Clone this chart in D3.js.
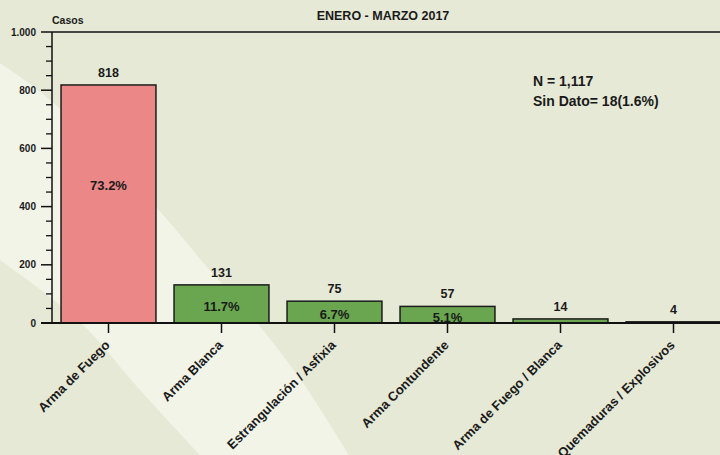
<!DOCTYPE html>
<html>
<head>
<meta charset="utf-8">
<script src="https://cdn.jsdelivr.net/npm/d3@7"></script>
<style>
  body { margin: 0; padding: 0; background: #e6e9d6; }
  svg { display: block; font-family: "Liberation Sans", Arial, sans-serif; }
</style>
</head>
<body>
<div id="chart"></div>
<script>
const categories = ["Arma de Fuego", "Arma Blanca", "Estrangulación / Asfixia", "Arma Contundente", "Arma de Fuego / Blanca", "Quemaduras / Explosivos"];
const casos = [818, 131, 75, 57, 14, 4];
const porcentajes = ["73.2%", "11.7%", "6.7%", "5.1%", "", ""];
const yTicks = [0, 200, 400, 600, 800, 1000];
const yTickLabels = ["0", "200", "400", "600", "800", "1.000"];
const notas = ["N = 1,117", "Sin Dato= 18(1.6%)"];

const width = 720,
    height = 455;
const margin = { left: 52, top: 32, bottom: 323 };

const svg = d3.select("#chart")
    .append("svg")
    .attr("width", width)
    .attr("height", height);

// fondo con la franja clara diagonal
svg.append("rect").attr("width", width).attr("height", height).attr("fill", "#e6e9d6");
const upperEdge = [[0, 63], [50, 100], [156, 207], [207, 267], [257, 323], [303, 383], [349, 455]];
const lowerEdge = [[200, 455], [140, 390], [80, 322], [0, 260]];
const edgeLine = d3.line().curve(d3.curveCatmullRom);
svg.append("path")
    .attr("d", edgeLine(upperEdge) + "L" + edgeLine(lowerEdge).slice(1) + "Z")
    .attr("fill", "#f2f4e8");

const x = d3.scaleBand()
    .domain(categories)
    .range([margin.left, 730])
    .paddingInner(0.16)
    .paddingOuter(0.08);

const y = d3.scaleLinear()
    .domain([0, 1000])
    .range([margin.bottom, margin.top]);

// barras
svg.selectAll("rect.bar")
    .data(casos)
    .join("rect")
    .attr("class", "bar")
    .attr("x", (d, i) => x(categories[i]))
    .attr("y", d => y(d))
    .attr("width", x.bandwidth())
    .attr("height", d => y(0) - y(d))
    .attr("fill", (d, i) => i === 0 ? "#eb8787" : "#6aa64f")
    .attr("stroke", "#1c1c1c")
    .attr("stroke-width", 1.5);

// eje y
const yAxis = svg.append("g");
yAxis.append("line")
    .attr("x1", margin.left).attr("x2", margin.left)
    .attr("y1", y(1000)).attr("y2", y(0) + 1)
    .attr("stroke", "#111").attr("stroke-width", 1.5);
yAxis.selectAll("line.minor")
    .data(d3.range(50, 1000, 50).filter(v => v % 200 !== 0))
    .join("line")
    .attr("class", "minor")
    .attr("x1", margin.left - 6).attr("x2", margin.left)
    .attr("y1", d => y(d)).attr("y2", d => y(d))
    .attr("stroke", "#111").attr("stroke-width", 1.3);
yAxis.selectAll("line.major")
    .data(yTicks)
    .join("line")
    .attr("class", "major")
    .attr("x1", margin.left - 11).attr("x2", margin.left)
    .attr("y1", d => y(d)).attr("y2", d => y(d))
    .attr("stroke", "#111").attr("stroke-width", 1.5);
yAxis.selectAll("text")
    .data(yTicks)
    .join("text")
    .attr("x", margin.left - 16)
    .attr("y", d => y(d) + 3.5)
    .attr("text-anchor", "end")
    .attr("font-size", "10px")
    .attr("font-weight", "bold")
    .attr("fill", "#1a1a1a")
    .text((d, i) => yTickLabels[i]);

// linea superior y base
svg.append("line")
    .attr("x1", margin.left).attr("x2", width)
    .attr("y1", y(1000)).attr("y2", y(1000))
    .attr("stroke", "#111").attr("stroke-width", 1.5);
svg.append("line")
    .attr("x1", margin.left - 11).attr("x2", width)
    .attr("y1", y(0)).attr("y2", y(0))
    .attr("stroke", "#111").attr("stroke-width", 2);

// eje x
const xAxis = svg.append("g");
xAxis.selectAll("line")
    .data(categories)
    .join("line")
    .attr("x1", d => x(d) + x.bandwidth() / 2)
    .attr("x2", d => x(d) + x.bandwidth() / 2)
    .attr("y1", y(0)).attr("y2", y(0) + 10)
    .attr("stroke", "#111").attr("stroke-width", 1.5);
xAxis.selectAll("text")
    .data(categories)
    .join("text")
    .attr("transform", d => `translate(${x(d) + x.bandwidth() / 2 + 2},${y(0) + 23}) rotate(-45)`)
    .attr("text-anchor", "end")
    .attr("font-size", "13px")
    .attr("font-weight", "bold")
    .attr("fill", "#1a1a1a")
    .text(d => d);

// valores
svg.selectAll("text.valor")
    .data(casos)
    .join("text")
    .attr("class", "valor")
    .attr("x", (d, i) => x(categories[i]) + x.bandwidth() / 2)
    .attr("y", d => y(d) - 8)
    .attr("text-anchor", "middle")
    .attr("font-size", "12.5px")
    .attr("font-weight", "bold")
    .attr("fill", "#1a1a1a")
    .text(d => d);

svg.selectAll("text.pct")
    .data(casos)
    .join("text")
    .attr("class", "pct")
    .attr("x", (d, i) => x(categories[i]) + x.bandwidth() / 2)
    .attr("y", d => {
        const h = y(0) - y(d);
        return Math.min(y(d) + h / 2 + 2, y(d) + 100) + 5;
    })
    .attr("text-anchor", "middle")
    .attr("font-size", "13px")
    .attr("font-weight", "bold")
    .attr("fill", "#1a1a1a")
    .text((d, i) => porcentajes[i]);

// titulos
svg.append("text")
    .attr("x", 383).attr("y", 20)
    .attr("text-anchor", "middle")
    .attr("font-size", "12.5px")
    .attr("font-weight", "bold")
    .attr("fill", "#1a1a1a")
    .text("ENERO - MARZO 2017");

svg.append("text")
    .attr("x", margin.left).attr("y", 24)
    .attr("font-size", "10.5px")
    .attr("font-weight", "bold")
    .attr("fill", "#1a1a1a")
    .text("Casos");

svg.selectAll("text.nota")
    .data(notas)
    .join("text")
    .attr("class", "nota")
    .attr("x", 533)
    .attr("y", (d, i) => 86 + i * 20)
    .attr("font-size", "14px")
    .attr("font-weight", "bold")
    .attr("fill", "#1a1a1a")
    .text(d => d);
</script>
</body>
</html>
